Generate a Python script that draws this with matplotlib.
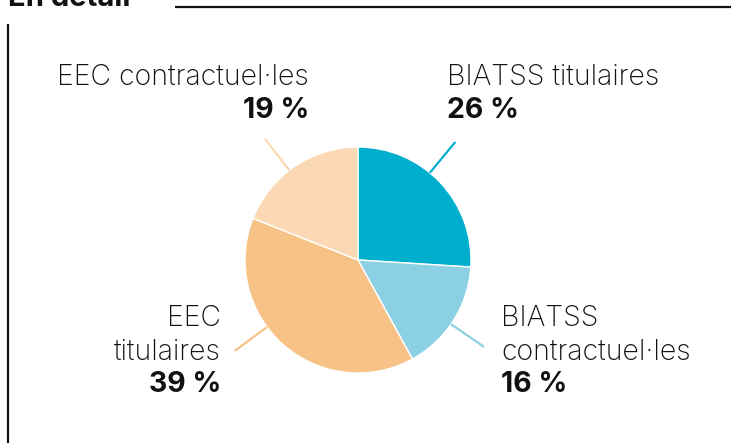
import numpy as np
import matplotlib.pyplot as plt

plt.rcParams['font.family'] = ['Inter', 'DejaVu Sans']

# data
categories = ['BIATSS titulaires', 'BIATSS contractuel·les', 'EEC titulaires', 'EEC contractuel·les']
shares = [26, 16, 39, 19]
colors = ['#00aece', '#8bd0e3', '#f7c286', '#fbd9b4']

W, H = 731, 443
fig = plt.figure(figsize=(W / 100, H / 100), dpi=100)
ax = fig.add_axes([0, 0, 1, 1])

cx, cy, r = 358, H - 260, 113
ax.pie(shares, colors=colors, startangle=90, counterclock=False,
       center=(cx, cy), radius=r, frame=True,
       wedgeprops=dict(edgecolor='white', linewidth=1))
ax.set_xlim(0, W)
ax.set_ylim(0, H)
ax.set_aspect('equal')
ax.axis('off')

# leader lines
leader_angles = [50.5, -34.6, -143.6, 127.5]
for ang, c in zip(leader_angles, colors):
    a = np.deg2rad(ang)
    ax.plot([cx + r * np.cos(a), cx + 153 * np.cos(a)],
            [cy + r * np.sin(a), cy + 153 * np.sin(a)],
            color=c, lw=1.6, solid_capstyle='butt')

fs = 20.5
def lab(x, y, s, ha, bold=False):
    ax.text(x, H - y, s, ha=ha, va='center', fontsize=fs,
            fontweight='bold' if bold else 'light', color='#111111')

# labels
lab(309, 77, 'EEC contractuel·les', 'right')
lab(309, 110, f'{shares[3]} %', 'right', True)
lab(447, 77, 'BIATSS titulaires', 'left')
lab(447, 110, f'{shares[0]} %', 'left', True)
lab(221, 318, 'EEC', 'right')
lab(221, 352, 'titulaires', 'right')
lab(221, 385, f'{shares[2]} %', 'right', True)
lab(501, 318, 'BIATSS', 'left')
lab(501, 352, 'contractuel·les', 'left')
lab(501, 385, f'{shares[1]} %', 'left', True)

# header
ax.text(8, H - 6, 'En détail', ha='left', va='baseline', fontsize=21,
        fontweight='bold', color='#111111')
ax.plot([175, W], [H - 7, H - 7], color='#111111', lw=1.6, solid_capstyle='butt')
ax.plot([8, 8], [H - 24, 0], color='#111111', lw=1.6, solid_capstyle='butt')

fig.savefig('out.png', dpi=100)
